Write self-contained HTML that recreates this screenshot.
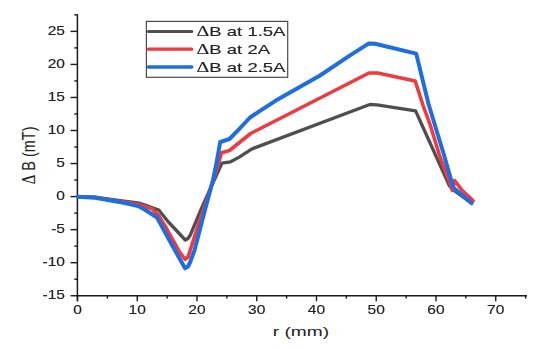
<!DOCTYPE html>
<html><head><meta charset="utf-8"><style>
html,body{margin:0;padding:0;background:#fff;}
body{width:550px;height:349px;overflow:hidden;font-family:"Liberation Sans", sans-serif;}
svg{display:block;}
</style></head><body>
<svg width="550" height="349" viewBox="0 0 550 349">
<defs><filter id="bl" x="-5%" y="-5%" width="110%" height="110%"><feGaussianBlur stdDeviation="0.35"/></filter><filter id="tb" x="-5%" y="-20%" width="110%" height="140%"><feGaussianBlur stdDeviation="0.22"/></filter></defs>
<rect width="550" height="349" fill="#fff"/>
<line x1="77.4" y1="14.2" x2="77.4" y2="301.2" stroke="#1a1a1a" stroke-width="1.5"/>
<line x1="76.7" y1="295.85" x2="527.0" y2="295.85" stroke="#1a1a1a" stroke-width="1.5"/>
<line x1="70.5" y1="295.74" x2="77.4" y2="295.74" stroke="#1a1a1a" stroke-width="1.4"/>
<line x1="70.5" y1="262.69" x2="77.4" y2="262.69" stroke="#1a1a1a" stroke-width="1.4"/>
<line x1="70.5" y1="229.64" x2="77.4" y2="229.64" stroke="#1a1a1a" stroke-width="1.4"/>
<line x1="70.5" y1="196.60" x2="77.4" y2="196.60" stroke="#1a1a1a" stroke-width="1.4"/>
<line x1="70.5" y1="163.56" x2="77.4" y2="163.56" stroke="#1a1a1a" stroke-width="1.4"/>
<line x1="70.5" y1="130.51" x2="77.4" y2="130.51" stroke="#1a1a1a" stroke-width="1.4"/>
<line x1="70.5" y1="97.46" x2="77.4" y2="97.46" stroke="#1a1a1a" stroke-width="1.4"/>
<line x1="70.5" y1="64.42" x2="77.4" y2="64.42" stroke="#1a1a1a" stroke-width="1.4"/>
<line x1="70.5" y1="31.38" x2="77.4" y2="31.38" stroke="#1a1a1a" stroke-width="1.4"/>
<line x1="74.3" y1="279.21" x2="77.4" y2="279.21" stroke="#1a1a1a" stroke-width="1.4"/>
<line x1="74.3" y1="246.17" x2="77.4" y2="246.17" stroke="#1a1a1a" stroke-width="1.4"/>
<line x1="74.3" y1="213.12" x2="77.4" y2="213.12" stroke="#1a1a1a" stroke-width="1.4"/>
<line x1="74.3" y1="180.08" x2="77.4" y2="180.08" stroke="#1a1a1a" stroke-width="1.4"/>
<line x1="74.3" y1="147.03" x2="77.4" y2="147.03" stroke="#1a1a1a" stroke-width="1.4"/>
<line x1="74.3" y1="113.99" x2="77.4" y2="113.99" stroke="#1a1a1a" stroke-width="1.4"/>
<line x1="74.3" y1="80.94" x2="77.4" y2="80.94" stroke="#1a1a1a" stroke-width="1.4"/>
<line x1="74.3" y1="47.90" x2="77.4" y2="47.90" stroke="#1a1a1a" stroke-width="1.4"/>
<line x1="74.3" y1="14.85" x2="77.4" y2="14.85" stroke="#1a1a1a" stroke-width="1.4"/>
<line x1="77.51" y1="295.85" x2="77.51" y2="301.2" stroke="#1a1a1a" stroke-width="1.4"/>
<line x1="137.25" y1="295.85" x2="137.25" y2="301.2" stroke="#1a1a1a" stroke-width="1.4"/>
<line x1="197.00" y1="295.85" x2="197.00" y2="301.2" stroke="#1a1a1a" stroke-width="1.4"/>
<line x1="256.75" y1="295.85" x2="256.75" y2="301.2" stroke="#1a1a1a" stroke-width="1.4"/>
<line x1="316.49" y1="295.85" x2="316.49" y2="301.2" stroke="#1a1a1a" stroke-width="1.4"/>
<line x1="376.24" y1="295.85" x2="376.24" y2="301.2" stroke="#1a1a1a" stroke-width="1.4"/>
<line x1="435.98" y1="295.85" x2="435.98" y2="301.2" stroke="#1a1a1a" stroke-width="1.4"/>
<line x1="495.72" y1="295.85" x2="495.72" y2="301.2" stroke="#1a1a1a" stroke-width="1.4"/>
<line x1="107.38" y1="295.85" x2="107.38" y2="298.6" stroke="#1a1a1a" stroke-width="1.4"/>
<line x1="167.13" y1="295.85" x2="167.13" y2="298.6" stroke="#1a1a1a" stroke-width="1.4"/>
<line x1="226.87" y1="295.85" x2="226.87" y2="298.6" stroke="#1a1a1a" stroke-width="1.4"/>
<line x1="286.62" y1="295.85" x2="286.62" y2="298.6" stroke="#1a1a1a" stroke-width="1.4"/>
<line x1="346.36" y1="295.85" x2="346.36" y2="298.6" stroke="#1a1a1a" stroke-width="1.4"/>
<line x1="406.11" y1="295.85" x2="406.11" y2="298.6" stroke="#1a1a1a" stroke-width="1.4"/>
<line x1="465.85" y1="295.85" x2="465.85" y2="298.6" stroke="#1a1a1a" stroke-width="1.4"/>
<line x1="525.60" y1="295.85" x2="525.60" y2="298.6" stroke="#1a1a1a" stroke-width="1.4"/>
<g filter="url(#tb)" font-family="Liberation Sans, sans-serif" font-size="12.0" fill="#222" stroke="#222" stroke-width="0.15"><text x="50.00" y="299.29" text-anchor="end" transform="scale(1.3,1)">-15</text><text x="50.00" y="266.24" text-anchor="end" transform="scale(1.3,1)">-10</text><text x="50.00" y="233.19" text-anchor="end" transform="scale(1.3,1)">-5</text><text x="50.00" y="200.15" text-anchor="end" transform="scale(1.3,1)">0</text><text x="50.00" y="167.11" text-anchor="end" transform="scale(1.3,1)">5</text><text x="50.00" y="134.06" text-anchor="end" transform="scale(1.3,1)">10</text><text x="50.00" y="101.01" text-anchor="end" transform="scale(1.3,1)">15</text><text x="50.00" y="67.97" text-anchor="end" transform="scale(1.3,1)">20</text><text x="50.00" y="34.92" text-anchor="end" transform="scale(1.3,1)">25</text><text x="59.62" y="314.1" text-anchor="middle" transform="scale(1.3,1)">0</text><text x="105.58" y="314.1" text-anchor="middle" transform="scale(1.3,1)">10</text><text x="151.54" y="314.1" text-anchor="middle" transform="scale(1.3,1)">20</text><text x="197.50" y="314.1" text-anchor="middle" transform="scale(1.3,1)">30</text><text x="243.45" y="314.1" text-anchor="middle" transform="scale(1.3,1)">40</text><text x="289.41" y="314.1" text-anchor="middle" transform="scale(1.3,1)">50</text><text x="335.37" y="314.1" text-anchor="middle" transform="scale(1.3,1)">60</text><text x="381.33" y="314.1" text-anchor="middle" transform="scale(1.3,1)">70</text></g>
<text x="301" y="336.5" text-anchor="middle" font-family="Liberation Sans, sans-serif" font-size="13.5" fill="#222" stroke="#222" stroke-width="0.05" transform="translate(301.1,0) scale(1.42,1) translate(-301.1,0)">r (mm)</text>
<text x="0" y="0" text-anchor="middle" font-family="Liberation Sans, sans-serif" font-size="14.5" fill="#222" stroke="#222" stroke-width="0.05" transform="translate(34.6,155.4) scale(1.3,1) rotate(-90)"><tspan font-family="Liberation Serif, serif" font-size="14.8">&#916;</tspan> B (mT)</text>
<g filter="url(#bl)">
<polyline points="77.8,196.7 95.0,197.1 122.0,200.8 138.0,202.8 145.0,205.0 158.8,210.0 168.0,221.5 185.3,240.0 188.0,238.5 190.3,235.0 202.3,206.5 212.0,185.0 221.9,163.2 230.6,161.8 239.2,157.1 252.0,148.9 369.8,104.5 377.0,104.8 415.6,110.9 421.5,124.0 449.5,186.0 452.3,189.2 471.5,203.2" fill="none" stroke="#505050" stroke-width="3.3" stroke-linejoin="round" stroke-linecap="round"/>
<polyline points="77.8,196.7 95.0,197.3 122.0,201.9 138.0,204.2 152.0,208.8 158.5,215.2 165.0,226.0 179.5,252.0 185.1,259.3 188.0,257.0 190.3,250.0 195.0,235.0 200.0,220.0 205.0,205.0 211.0,187.0 216.5,170.0 221.5,152.8 229.5,150.5 250.6,133.5 369.0,73.0 377.6,73.0 415.2,81.0 422.9,105.0 430.2,125.0 439.4,155.0 452.4,190.5 454.6,180.6 462.0,190.2 473.2,200.8" fill="none" stroke="#ef3a3f" stroke-width="3.6" stroke-linejoin="round" stroke-linecap="round"/>
<polyline points="77.8,196.7 95.0,197.7 125.0,203.0 138.0,206.1 145.0,209.8 157.0,217.5 172.0,245.0 185.0,268.3 188.0,266.5 190.0,262.5 194.6,250.0 205.5,208.0 213.0,180.0 216.5,163.0 220.2,142.0 229.5,139.0 238.2,130.1 250.0,117.5 260.0,110.8 275.0,101.1 290.0,92.5 320.0,75.5 350.0,55.4 368.5,43.6 375.0,43.8 416.2,53.6 428.5,104.0 444.0,155.0 453.3,187.6 471.6,203.2" fill="none" stroke="#1e6ee2" stroke-width="4.0" stroke-linejoin="round" stroke-linecap="round"/>
</g>
<rect x="146.4" y="21.4" width="141.3" height="55.9" fill="#fff" stroke="#4a4a4a" stroke-width="1.2"/>
<line x1="148.4" y1="31.6" x2="191.8" y2="31.6" stroke="#505050" stroke-width="3.0" stroke-linecap="round"/>
<line x1="148.4" y1="49.2" x2="191.8" y2="49.2" stroke="#ef3a3f" stroke-width="3.2" stroke-linecap="round"/>
<line x1="148.4" y1="67.0" x2="191.8" y2="67.0" stroke="#1e6ee2" stroke-width="3.4" stroke-linecap="round"/>
<g filter="url(#tb)" font-family="Liberation Sans, sans-serif" font-size="13.5" fill="#222" stroke="#222" stroke-width="0.15"><text x="143.43" y="35.8" transform="scale(1.37,1)"><tspan font-family="Liberation Serif, serif" font-size="14.6">&#916;</tspan>B at 1.5A</text><text x="143.43" y="54.3" transform="scale(1.37,1)"><tspan font-family="Liberation Serif, serif" font-size="14.6">&#916;</tspan>B at 2A</text><text x="143.43" y="71.6" transform="scale(1.37,1)"><tspan font-family="Liberation Serif, serif" font-size="14.6">&#916;</tspan>B at 2.5A</text></g>
</svg>
</body></html>
